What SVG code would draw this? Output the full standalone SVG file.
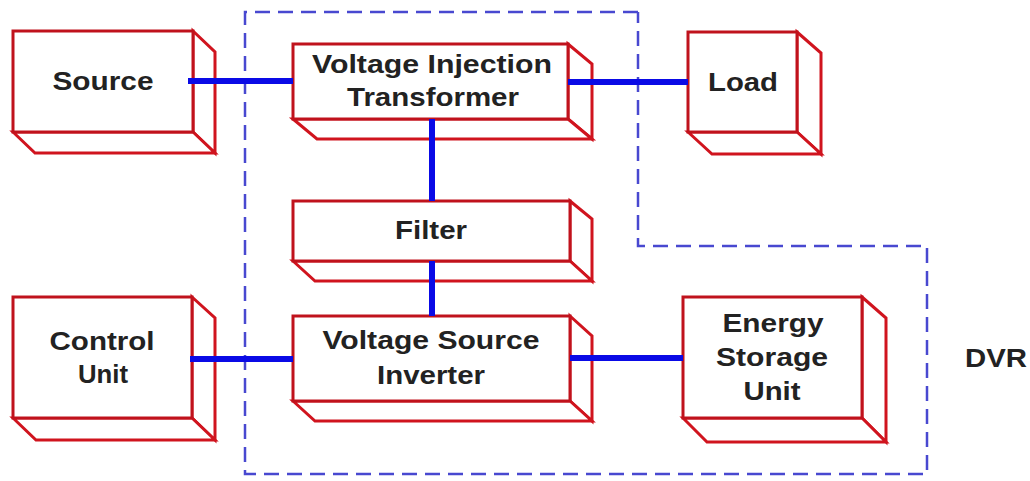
<svg xmlns="http://www.w3.org/2000/svg" width="1030" height="481" viewBox="0 0 1030 481">
<style>
.box path, .box rect { fill: #ffffff; stroke: #d0141e; stroke-width: 3; stroke-linejoin: miter; }
.box rect { stroke: #c0121c; }
.lbl { font-family: "Liberation Sans", Arial, sans-serif; font-weight: bold; font-size: 26px; fill: #222222; text-anchor: middle; }
.conn line { stroke: #0a0ae6; stroke-width: 6; }
.dvr { fill: none; stroke: #4848d0; stroke-width: 2.5; stroke-dasharray: 15 8; }
</style>
<rect width="1030" height="481" fill="#ffffff"/>
<path class="dvr" d="M638 12 L245 12 L245 474 L927 474 L927 246 L638 246 L638 12"/>
<g id="source" class="box">
<path d="M193 31 L215 52 L215 153 L193 132 Z"/>
<path d="M13 132 L35 153 L215 153 L193 132 Z"/>
<rect x="13" y="31" width="180" height="101"/>
<text class="lbl" x="103" y="90" textLength="101" lengthAdjust="spacingAndGlyphs">Source</text>
</g>
<g id="vit" class="box">
<path d="M568 44 L592 64 L592 139 L568 119 Z"/>
<path d="M293 119 L317 139 L592 139 L568 119 Z"/>
<rect x="293" y="44" width="275" height="75"/>
<text class="lbl" x="432" y="73" textLength="240" lengthAdjust="spacingAndGlyphs">Voltage Injection</text>
<text class="lbl" x="433" y="106" textLength="172" lengthAdjust="spacingAndGlyphs">Transformer</text>
</g>
<g id="load" class="box">
<path d="M797 32 L821 53 L821 154 L797 132 Z"/>
<path d="M688 132 L712 154 L821 154 L797 132 Z"/>
<rect x="688" y="32" width="109" height="100"/>
<text class="lbl" x="743" y="91" textLength="70" lengthAdjust="spacingAndGlyphs">Load</text>
</g>
<g id="filter" class="box">
<path d="M570 201 L592 219 L592 281 L570 261 Z"/>
<path d="M293 261 L315 281 L592 281 L570 261 Z"/>
<rect x="293" y="201" width="277" height="60"/>
<text class="lbl" x="431" y="239" textLength="72" lengthAdjust="spacingAndGlyphs">Filter</text>
</g>
<g id="vsi" class="box">
<path d="M570 316 L592 336 L592 421 L570 401 Z"/>
<path d="M293 401 L315 421 L592 421 L570 401 Z"/>
<rect x="293" y="316" width="277" height="85"/>
<text class="lbl" x="431" y="349" textLength="217" lengthAdjust="spacingAndGlyphs">Voltage Source</text>
<text class="lbl" x="431" y="384" textLength="108" lengthAdjust="spacingAndGlyphs">Inverter</text>
</g>
<g id="control" class="box">
<path d="M192 297 L215 318 L215 440 L192 418 Z"/>
<path d="M13 418 L36 440 L215 440 L192 418 Z"/>
<rect x="13" y="297" width="179" height="121"/>
<text class="lbl" x="102" y="350" textLength="105" lengthAdjust="spacingAndGlyphs">Control</text>
<text class="lbl" x="103" y="383" textLength="50" lengthAdjust="spacingAndGlyphs">Unit</text>
</g>
<g id="esu" class="box">
<path d="M862 297 L886 318 L886 442 L862 418 Z"/>
<path d="M683 418 L707 442 L886 442 L862 418 Z"/>
<rect x="683" y="297" width="179" height="121"/>
<text class="lbl" x="773" y="332" textLength="101" lengthAdjust="spacingAndGlyphs">Energy</text>
<text class="lbl" x="772" y="366" textLength="112" lengthAdjust="spacingAndGlyphs">Storage</text>
<text class="lbl" x="772" y="400" textLength="57" lengthAdjust="spacingAndGlyphs">Unit</text>
</g>
<g id="connectors" class="conn">
<line x1="188" y1="81" x2="293" y2="81"/>
<line x1="568" y1="82" x2="688" y2="82"/>
<line x1="432" y1="119" x2="432" y2="201"/>
<line x1="432" y1="261" x2="432" y2="316"/>
<line x1="190" y1="359" x2="293" y2="359"/>
<line x1="570" y1="358" x2="683" y2="358"/>
</g>
<text id="dvr-label" class="lbl" x="996" y="367" textLength="62" lengthAdjust="spacingAndGlyphs">DVR</text>
</svg>
